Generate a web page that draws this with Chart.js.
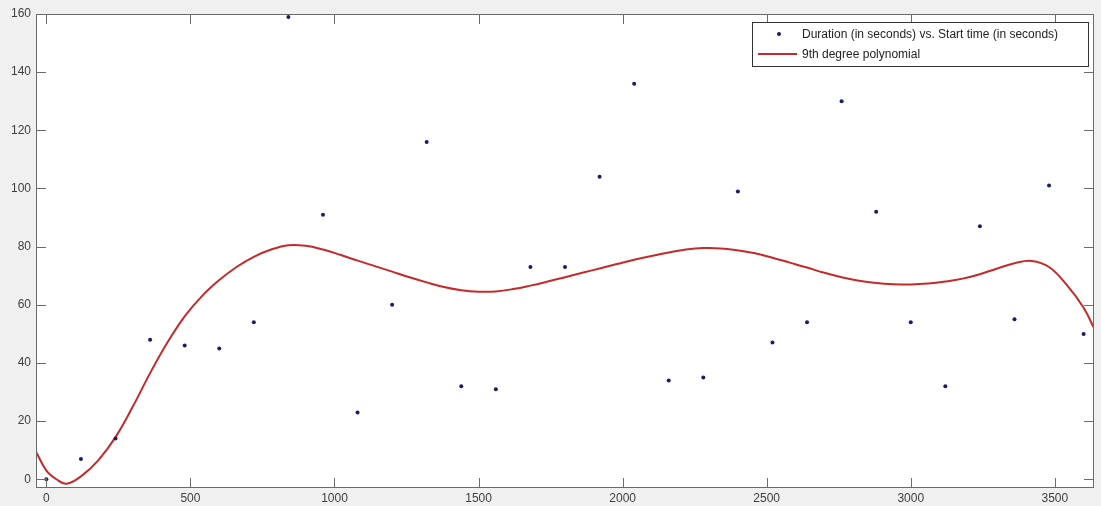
<!DOCTYPE html>
<html>
<head>
<meta charset="utf-8">
<script src="https://cdn.jsdelivr.net/npm/chart.js@4.4.1/dist/chart.umd.min.js"></script>
<style>
  html, body { margin: 0; padding: 0; background: #f0f0f0; }
  #plot { display: block; }
</style>
</head>
<body>
<canvas id="plot" width="1101" height="506"></canvas>
<script>
// start times (s) of each sample
const startTimes = [0, 120, 240, 360, 480, 600, 720, 840, 960, 1080, 1200, 1320, 1440, 1560, 1680,
  1800, 1920, 2040, 2160, 2280, 2400, 2520, 2640, 2760, 2880, 3000, 3120, 3240, 3360, 3480, 3600];
// duration (s)
const durations = [0, 7, 14, 48, 46, 45, 54, 159, 91, 23, 60, 116, 32, 31, 73,
  73, 104, 136, 34, 35, 99, 47, 54, 130, 92, 54, 32, 87, 55, 101, 50];

// fitted curve
const fitX = [-36, 0, 35, 70, 120, 180, 240, 300, 360, 420, 480, 540, 600, 660, 720, 780, 840, 900,
  960, 1020, 1080, 1140, 1200, 1260, 1320, 1380, 1440, 1500, 1560, 1620, 1680, 1740, 1800, 1860,
  1920, 1980, 2040, 2100, 2160, 2220, 2280, 2340, 2400, 2460, 2520, 2580, 2640, 2700, 2760, 2820,
  2880, 2940, 3000, 3060, 3120, 3180, 3240, 3300, 3360, 3420, 3480, 3540, 3600, 3636];
const fitY = [9.5, 3, 0, -1.5, 1, 6.5, 14.5, 25, 36.5, 47, 56, 63, 68.5, 73, 76.5, 79, 80.5, 80.3,
  79, 77.2, 75.2, 73.3, 71.4, 69.5, 67.7, 66.1, 65, 64.5, 64.6, 65.4, 66.6, 68, 69.5, 71,
  72.5, 74, 75.5, 76.8, 78, 79, 79.5, 79.4, 78.7, 77.7, 76.2, 74.5, 72.8, 71, 69.5, 68.3,
  67.5, 67.1, 67, 67.3, 68, 69, 70.5, 72.5, 74.3, 75.1, 73, 67, 59, 52];

const xTicks = [0, 500, 1000, 1500, 2000, 2500, 3000, 3500];
const yTicks = [0, 20, 40, 60, 80, 100, 120, 140, 160];

const pointLabel = "Duration (in seconds) vs. Start time (in seconds)";
const fitLabel = "9th degree polynomial";

const dotColor = "#1b1b6b";
const fitColor = "#c42a2a";
const frameColor = "#6a6a6a";
const labelFont = { family: "'Liberation Sans', Arial, sans-serif", size: 12 };

// white axes background
const plotBg = {
    id: "plotBg",
    beforeDraw(chart) {
        const { ctx, chartArea: a } = chart;
        ctx.save();
        ctx.fillStyle = "#ffffff";
        ctx.fillRect(a.left, a.top, a.right - a.left, a.bottom - a.top);
        ctx.restore();
    },
};

// box + inward ticks on all four sides, like the original figure
const axisFrame = {
    id: "axisFrame",
    afterDatasetsDraw(chart) {
        const { ctx, chartArea: a, scales } = chart;
        const len = 10;
        ctx.save();
        ctx.strokeStyle = frameColor;
        ctx.lineWidth = 1;
        ctx.strokeRect(a.left + 0.5, a.top + 0.5, a.right - a.left - 1, a.bottom - a.top - 1);
        ctx.beginPath();
        xTicks.forEach((v) => {
            const px = Math.round(scales.x.getPixelForValue(v)) + 0.5;
            ctx.moveTo(px, a.bottom);
            ctx.lineTo(px, a.bottom - len);
            ctx.moveTo(px, a.top);
            ctx.lineTo(px, a.top + len);
        });
        yTicks.forEach((v) => {
            const py = Math.round(scales.y.getPixelForValue(v)) + 0.5;
            ctx.moveTo(a.left, py);
            ctx.lineTo(a.left + len, py);
            ctx.moveTo(a.right, py);
            ctx.lineTo(a.right - len, py);
        });
        ctx.stroke();
        ctx.restore();
    },
};

// legend box in the upper right corner
const boxLegend = {
    id: "boxLegend",
    afterDraw(chart) {
        const { ctx } = chart;
        const ds = chart.data.datasets;
        const x0 = 752, y0 = 22, w = 336, h = 44;
        ctx.save();
        ctx.fillStyle = "#ffffff";
        ctx.fillRect(x0, y0, w, h);
        ctx.strokeStyle = "#333333";
        ctx.lineWidth = 1;
        ctx.strokeRect(x0 + 0.5, y0 + 0.5, w, h);

        ctx.fillStyle = dotColor;
        ctx.beginPath();
        ctx.arc(779, 34, 2, 0, Math.PI * 2);
        ctx.fill();

        ctx.strokeStyle = fitColor;
        ctx.lineWidth = 2;
        ctx.beginPath();
        ctx.moveTo(758, 54);
        ctx.lineTo(797, 54);
        ctx.stroke();

        ctx.fillStyle = "#222222";
        ctx.font = "12px 'Liberation Sans', Arial, sans-serif";
        ctx.textBaseline = "middle";
        ctx.fillText(ds[0].label, 802, 35);
        ctx.fillText(ds[1].label, 802, 55);
        ctx.restore();
    },
};

const ctx = document.getElementById("plot").getContext("2d");
new Chart(ctx, {
    type: "scatter",
    data: {
        datasets: [
            {
                label: pointLabel,
                data: startTimes.map((t, i) => ({ x: t, y: durations[i] })),
                backgroundColor: dotColor,
                borderColor: dotColor,
                pointRadius: 2,
                borderWidth: 0,
                showLine: false,
                order: 1,
            },
            {
                label: fitLabel,
                data: fitX.map((t, i) => ({ x: t, y: fitY[i] })),
                borderColor: fitColor,
                backgroundColor: fitColor,
                borderWidth: 2,
                pointRadius: 0,
                showLine: true,
                tension: 0.4,
                order: 2,
            },
        ],
    },
    options: {
        responsive: false,
        animation: false,
        layout: { padding: { left: 0, top: 14, right: 7, bottom: 0 } },
        plugins: {
            legend: { display: false },
            tooltip: { enabled: false },
        },
        scales: {
            x: {
                type: "linear",
                min: -36,
                max: 3636,
                afterFit: (s) => { s.height = 18; },
                afterBuildTicks: (s) => { s.ticks = xTicks.map((v) => ({ value: v })); },
                grid: { display: false, drawTicks: false },
                border: { display: false },
                ticks: {
                    padding: 3,
                    color: "#404040",
                    font: labelFont,
                    maxRotation: 0,
                    callback: (v) => String(v),
                },
            },
            y: {
                type: "linear",
                min: -3,
                max: 160,
                afterFit: (s) => { s.width = 36; },
                afterBuildTicks: (s) => { s.ticks = yTicks.map((v) => ({ value: v })); },
                grid: { display: false, drawTicks: false },
                border: { display: false },
                ticks: {
                    padding: 5,
                    color: "#404040",
                    font: labelFont,
                    callback: (v) => String(v),
                },
            },
        },
    },
    plugins: [plotBg, axisFrame, boxLegend],
});
</script>
</body>
</html>
